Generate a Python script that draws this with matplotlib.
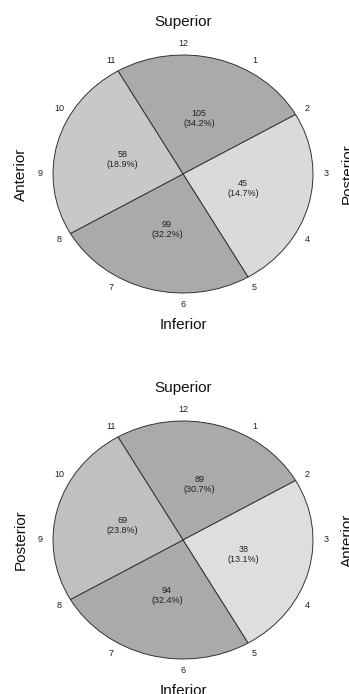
import numpy as np
import matplotlib
matplotlib.use('Agg')
import matplotlib.pyplot as plt

plt.rcParams['font.family'] = ['Liberation Sans', 'DejaVu Sans']

# Quadrants of the clock face, clockwise from 11 o'clock: top, right, bottom, left
quadrant_hours = [3, 3, 3, 3]
clock_labels = [str(h) for h in range(1, 13)]

top_counts = [105, 45, 99, 58]
top_colors = ['#aaaaaa', '#dadada', '#aaaaaa', '#c8c8c8']
top_sides = ['Superior', 'Posterior', 'Inferior', 'Anterior']

bottom_counts = [89, 38, 94, 69]
bottom_colors = ['#aaaaaa', '#dedede', '#aaaaaa', '#c0c0c0']
bottom_sides = ['Superior', 'Anterior', 'Inferior', 'Posterior']

W, H = 349, 694
fig = plt.figure(figsize=(W / 100, H / 100), dpi=100)

rx, ry = 130, 119


def draw_clock(top_px, bottom_px, cy, counts, colors, sides):
    cx = 183
    ax = fig.add_axes([0, 1 - bottom_px / H, 1, (bottom_px - top_px) / H])
    wedges, _ = ax.pie(quadrant_hours, colors=colors, startangle=120, counterclock=False,
                       wedgeprops=dict(edgecolor='#333333', linewidth=0.7))
    ax.set_aspect('auto')
    ax.set_xlim(-cx / rx, (W - cx) / rx)
    ax.set_ylim((cy - bottom_px) / ry, (cy - top_px) / ry)
    ax.axis('off')

    total = sum(counts)
    for w, n in zip(wedges, counts):
        mid = np.deg2rad((w.theta1 + w.theta2) / 2)
        ax.text(0.48 * np.cos(mid), 0.48 * np.sin(mid), f'{n}\n({100 * n / total:.1f}%)',
                ha='center', va='center', fontsize=6.5, color='#222222', linespacing=1.1)

    for i, lab in enumerate(clock_labels):
        ang = np.deg2rad(90 - 30 * (i + 1))
        ax.text(1.1 * np.cos(ang), 1.1 * np.sin(ang), lab, ha='center', va='center',
                fontsize=6.5, color='#222222')

    ax.text(0, 1.28, sides[0], ha='center', va='center', fontsize=11, color='#111111')
    ax.text(1.27, 0, sides[1], ha='center', va='center', rotation=90, fontsize=11, color='#111111')
    ax.text(0, -1.27, sides[2], ha='center', va='center', fontsize=11, color='#111111')
    ax.text(-1.25, 0, sides[3], ha='center', va='center', rotation=90, fontsize=11, color='#111111')


draw_clock(0, 347, 174, top_counts, top_colors, top_sides)
draw_clock(347, 694, 540, bottom_counts, bottom_colors, bottom_sides)

fig.savefig('out.png', dpi=100)
